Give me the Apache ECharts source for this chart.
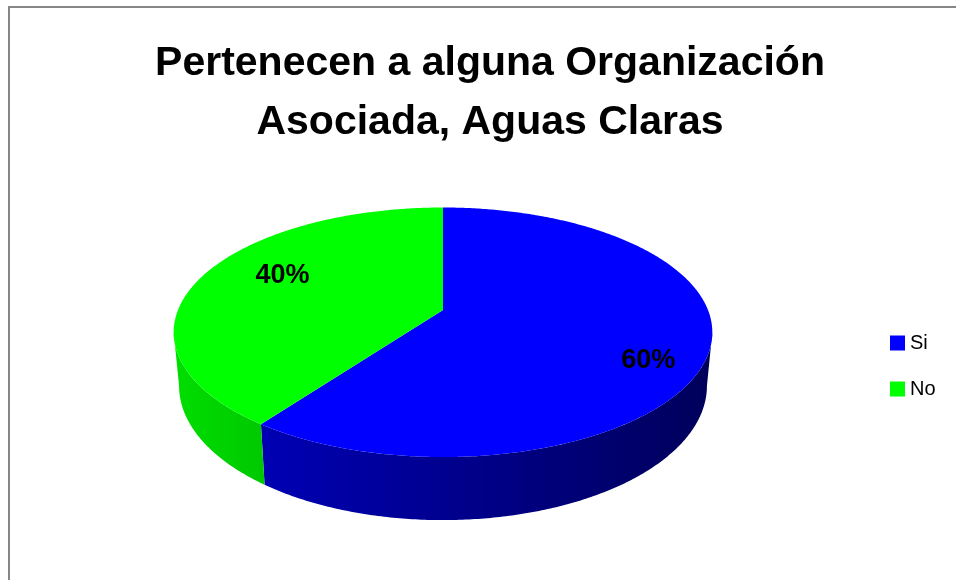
<!DOCTYPE html>
<html>
<head>
<meta charset="utf-8">
<script src="https://cdn.jsdelivr.net/npm/echarts@6/dist/echarts.min.js"></script>
<style>
  html, body { margin: 0; padding: 0; background: #fff; }
  #main { width: 956px; height: 580px; }
</style>
</head>
<body>
<div id="main"></div>
<script>
// datos del grafico
const categories = ['Si', 'No'];
const values = [60, 40];

const topColors = ['#0000FF', '#00FF00'];
const sideColors = [['#0000B4', '#00005A'], ['#00DE00', '#00C800']];
const labelNudge = [[8, 21], [21, -8]];
const FONT = '"Liberation Sans", Arial, sans-serif';

// proyeccion en perspectiva de la torta 3D
const CX = 443, CY = 310, A = 265, B = 120.8, K = 0.1785, H = 51.8;
const total = values.reduce((s, v) => s + v, 0);

function proj(theta, r, z) {
  const X = r * Math.cos(theta), Y = r * Math.sin(theta);
  const w = 1 + K * Y;
  const ax = z ? A * 0.98 : A;
  return [CX + ax * X / w, CY - (B * Y - z * H) / w];
}

function arc(from, to, z) {
  const n = Math.max(2, Math.ceil(Math.abs(to - from) / 0.01));
  const pts = [];
  for (let i = 0; i <= n; i++) pts.push(proj(from + (to - from) * i / n, 1, z));
  return pts;
}

function renderSlice(params, api) {
  const idx = params.seriesIndex;
  let cum = 0;
  for (let i = 0; i < idx; i++) cum += values[i];
  const v = api.value(0);
  const start = Math.PI / 2 - 2 * Math.PI * cum / total;
  const end = start - 2 * Math.PI * v / total;
  const children = [];

  // pared frontal visible
  const s = Math.asin(K);
  [-2 * Math.PI, 0, 2 * Math.PI].forEach(function (sh) {
    const lo = Math.max(end, -Math.PI + s + sh);
    const hi = Math.min(start, -s + sh);
    if (hi > lo) {
      const pts = arc(lo, hi, 0).concat(arc(hi, lo, 1));
      children.push({
        type: 'polygon',
        shape: { points: pts },
        style: {
          fill: new echarts.graphic.LinearGradient(0, 0, 1, 0, [
            { offset: 0, color: sideColors[idx][0] },
            { offset: 1, color: sideColors[idx][1] }
          ])
        }
      });
    }
  });

  // cara superior
  children.push({
    type: 'polygon',
    z2: 10,
    shape: { points: [proj(0, 0, 0)].concat(arc(start, end, 0)) },
    style: { fill: topColors[idx] }
  });

  // etiqueta de porcentaje
  const mid = (start + end) / 2;
  const p = proj(mid, 0.75, 0);
  children.push({
    type: 'text',
    z2: 20,
    style: {
      text: Math.round(v / total * 100) + '%',
      x: p[0] + labelNudge[idx][0],
      y: p[1] + labelNudge[idx][1],
      align: 'center',
      verticalAlign: 'middle',
      font: 'bold 27px ' + FONT,
      fill: '#000'
    }
  });

  return { type: 'group', children: children };
}

const chart = echarts.init(document.getElementById('main'));
const option = {
  animation: false,
  backgroundColor: '#fff',
  title: {
    text: 'Pertenecen a alguna Organización\nAsociada, Aguas Claras',
    left: 485,
    top: 29,
    textAlign: 'center',
    textStyle: {
      fontFamily: FONT,
      fontWeight: 'bold',
      fontSize: 41,
      lineHeight: 59,
      color: '#000'
    }
  },
  legend: {
    orient: 'vertical',
    left: 890,
    top: 333,
    padding: 0,
    itemWidth: 15,
    itemHeight: 15,
    itemGap: 26,
    icon: 'rect',
    data: categories,
    textStyle: { fontFamily: FONT, fontSize: 20, color: '#000' }
  },
  graphic: [{
    type: 'rect',
    shape: { x: 9, y: 7, width: 1000, height: 600 },
    style: { fill: 'none', stroke: '#868686', lineWidth: 2 },
    silent: true
  }],
  series: categories.map(function (name, i) {
    return {
      type: 'custom',
      name: name,
      coordinateSystem: 'none',
      silent: true,
      itemStyle: { color: topColors[i] },
      data: [[values[i]]],
      renderItem: renderSlice
    };
  })
};
chart.setOption(option);
</script>
</body>
</html>
